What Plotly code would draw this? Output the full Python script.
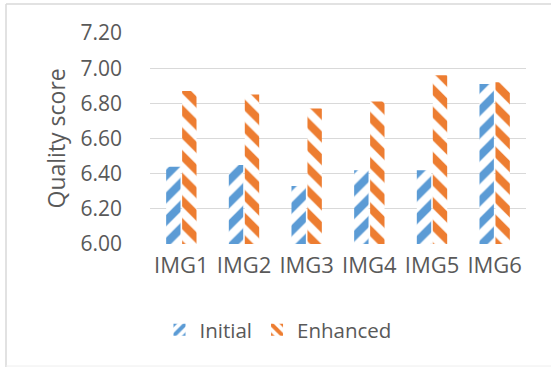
import plotly.graph_objects as go

categories = ["IMG1", "IMG2", "IMG3", "IMG4", "IMG5", "IMG6"]
initial = [6.44, 6.45, 6.33, 6.42, 6.42, 6.91]
enhanced = [6.87, 6.85, 6.77, 6.81, 6.96, 6.92]
y_ticks = [6.0, 6.2, 6.4, 6.6, 6.8, 7.0, 7.2]
y_tick_labels = ["6.00", "6.20", "6.40", "6.60", "6.80", "7.00", "7.20"]
y_title = "Quality score"

BLUE = "#5B9BD5"
ORANGE = "#ED7D31"
FONT = "Open Sans"
GRAY = "#595959"

fig = go.Figure()
fig.add_trace(go.Bar(
    name="Initial", x=categories, y=initial,
    marker=dict(color=BLUE, line=dict(width=0),
                pattern=dict(shape="/", fgcolor=BLUE, bgcolor="white",
                             size=16, solidity=0.5, fillmode="replace")),
))
fig.add_trace(go.Bar(
    name="Enhanced", x=categories, y=enhanced,
    marker=dict(color=ORANGE, line=dict(width=0),
                pattern=dict(shape="\\", fgcolor=ORANGE, bgcolor="white",
                             size=16, solidity=0.5, fillmode="replace")),
))

L, R, T, B = 150, 25, 33, 123
W, H = 551, 367
pw, ph = W - L - R, H - T - B


def px(x):
    return (x - L) / pw


def py(y):
    return (T + ph - y) / ph


border = dict(color="#D9D9D9", width=1.5)
shapes = [
    dict(type="line", xref="paper", yref="paper", x0=px(6), x1=px(6), y0=py(4), y1=py(367), line=border),
    dict(type="line", xref="paper", yref="paper", x0=px(6), x1=px(W), y0=py(4), y1=py(4), line=border),
    dict(type="line", xref="paper", yref="paper", x0=px(6), x1=px(W), y0=py(366), y1=py(366),
         line=dict(color="#EEEEEE", width=1)),
]

fig.update_layout(
    width=W, height=H,
    margin=dict(l=L, r=R, t=T, b=B, autoexpand=False),
    paper_bgcolor="white", plot_bgcolor="white",
    barmode="group", bargap=0.49, bargroupgap=0.1,
    font=dict(family=FONT, color=GRAY, size=22),
    showlegend=True,
    legend=dict(orientation="h", x=px(278), xanchor="center",
                y=py(330), yanchor="middle",
                font=dict(size=20.5, color=GRAY, family=FONT),
                itemwidth=30, traceorder="normal"),
    shapes=shapes,
    annotations=[dict(text=y_title, xref="paper", yref="paper",
                      x=px(55), y=0.5, xanchor="center", yanchor="middle",
                      textangle=-90, showarrow=False,
                      font=dict(size=23, color=GRAY, family=FONT))],
)
fig.update_xaxes(showgrid=False, showline=False, zeroline=False,
                 tickfont=dict(size=22, color=GRAY, family=FONT),
                 ticks="", ticklabelstandoff=6)
fig.update_yaxes(range=[6.0, 7.2], tickvals=y_ticks, ticktext=y_tick_labels,
                 showgrid=True, gridcolor="#D9D9D9", gridwidth=1.3,
                 zeroline=False, showline=False, ticks="",
                 tickfont=dict(size=21, color=GRAY, family=FONT),
                 ticklabelstandoff=27)

fig.write_html("out.html", config={"displayModeBar": False},
               post_script="document.body.style.margin='0';document.body.style.overflow='hidden';")
